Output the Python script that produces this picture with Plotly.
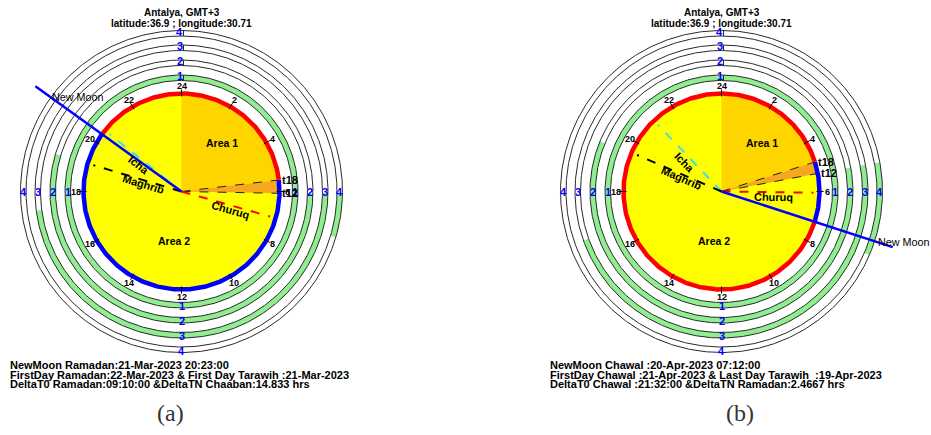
import numpy as np
import plotly.graph_objects as go

# ---------------- data ----------------
city_line = "Antalya, GMT+3"
coord_line = "latitude:36.9 ; longitude:30.71"
hour_ticks = [2, 4, 6, 8, 10, 12, 14, 16, 18, 20, 22, 24]
ring_names = ["1", "2", "3", "4"]

# (a) Ramadan 1444
ram_newmoon = 20 + 23 / 60
ram_t18 = 5.55
ram_t12 = 6.07
ram_icha = 20.57
ram_maghrib = 19.11
ram_churuq = 7.05
ram_ring_start = [0.0, 6.05, 6.05, 6.05]
ram_ring_end = [24.0, 19.11, 17.5, 7.1]
ram_info = [
    "NewMoon Ramadan:21-Mar-2023 20:23:00",
    "FirstDay Ramadan:22-Mar-2023 & First Day Tarawih :21-Mar-2023",
    "DeltaT0 Ramadan:09:10:00 &DeltaTN Chaaban:14.833 hrs",
]

# (b) Chawal 1444
chw_newmoon = 7 + 12 / 60
chw_t18 = 4.83
chw_t12 = 5.29
chw_icha = 21.09
chw_maghrib = 19.56
chw_churuq = 6.05
chw_ring_start = [0.0, 5.3, 5.3, 5.3]
chw_ring_end = [24.0, 19.5, 16.7, 7.55]
chw_info = [
    "NewMoon Chawal :20-Apr-2023 07:12:00",
    "FirstDay Chawal :21-Apr-2023 & Last Day Tarawih  :19-Apr-2023",
    "DeltaT0 Chawal :21:32:00 &DeltaTN Ramadan:2.4667 hrs",
]

# ---------------- styling / geometry ----------------
R = 98.0                      # clock radius
RING_IN = [111.0, 126.0, 141.0, 155.5]
RING_W = 5.5
FONT = "Liberation Sans"
YELLOW, GOLD, ORANGE = "#FFFF00", "#FFD500", "#F7A81E"
GREEN = "#90EE90"
RED, BLUE, CYAN = "#FF0000", "#0000FF", "#33E6E0"

W, H = 931, 435
PANEL_SPLIT = 465
CY = 191.5                    # clock centre, pixels from top
CX = [181.5, 721.5]


def pxy(h, r):
    th = np.deg2rad(np.asarray(h, dtype=float) * 15.0)
    return r * np.sin(th), r * np.cos(th)


def arc_pts(h0, h1, r):
    n = max(3, int(abs(h1 - h0) * 24) + 3)
    return pxy(np.linspace(h0, h1, n), r)


def unwrap(h0, h1):
    return h1 + 24 if h1 <= h0 else h1


fig = go.Figure()
annotations = []


def add_panel(k, newmoon, t18, t12, icha, maghrib, churuq, r_start, r_end,
              info, lbl):
    xa, ya = ("x", "y") if k == 0 else ("x2", "y2")

    def poly(xs, ys, fill, line_color=None, width=0):
        fig.add_trace(go.Scatter(x=xs, y=ys, xaxis=xa, yaxis=ya, mode="lines",
                                 fill="toself", fillcolor=fill,
                                 line=dict(color=line_color or fill, width=width),
                                 hoverinfo="skip", showlegend=False))

    def line(xs, ys, color, width, dash="solid"):
        fig.add_trace(go.Scatter(x=xs, y=ys, xaxis=xa, yaxis=ya, mode="lines",
                                 line=dict(color=color, width=width, dash=dash),
                                 hoverinfo="skip", showlegend=False))

    def text(x, y, s, size=10, color="black", bold=False, angle=0,
             xanchor="center", yanchor="middle", xshift=0, family=FONT):
        annotations.append(dict(x=x, y=y, xref=xa, yref=ya, text=f"<b>{s}</b>" if bold else s,
                                showarrow=False, textangle=angle, xanchor=xanchor,
                                yanchor=yanchor, xshift=xshift,
                                font=dict(family=family, size=size, color=color)))

    # yellow disc, Area 1 sector and the t18-t12 wedge
    x, y = arc_pts(0, 24, R)
    poly(x, y, YELLOW)
    x, y = arc_pts(0, t18, R)
    poly(np.r_[0, x, 0], np.r_[0, y, 0], GOLD)
    x, y = arc_pts(t18, t12, R)
    poly(np.r_[0, x, 0], np.r_[0, y, 0], ORANGE)
    for t in (t18, t12):
        ex, ey = pxy(t, R)
        line([0, ex], [0, ey], "#222222", 1, "dash")

    # day rings
    for i, rin in enumerate(RING_IN):
        rout = rin + RING_W
        h0, h1 = r_start[i], unwrap(r_start[i], r_end[i])
        xo, yo = arc_pts(h0, h1, rout)
        xi, yi = arc_pts(h1, h0, rin)
        poly(np.r_[xo, xi, xo[0]], np.r_[yo, yi, yo[0]], GREEN)
        for rr in (rin, rout):
            x, y = arc_pts(0, 24, rr)
            line(x, y, "#2a2a2a", 1)
        tx, ty = pxy([0, 0], [rin, rout])
        line(tx + 2, ty, "#2a2a2a", 1)
        rm = rin + RING_W / 2
        for hh, dy in ((0, 1.5), (6, 0), (12, -1), (18, 0)):
            lx, ly = pxy(hh, rm)
            text(lx, ly + dy, ring_names[i], size=11, color=BLUE, bold=True,
                 xshift=-2 if hh == 0 else 0)

    # clock border: red from new moon to t18, blue from t18 to new moon
    x, y = arc_pts(newmoon, unwrap(newmoon, t18), R)
    line(x, y, RED, 4.5)
    x, y = arc_pts(t18, unwrap(t18, newmoon), R)
    line(x, y, BLUE, 4.5)

    # hour ticks and labels
    for h in hour_ticks:
        tx, ty = pxy([h, h], [95, 102])
        line(tx, ty, "black", 1)
        lx, ly = pxy(h, 105.5)
        text(lx, ly, str(h), size=9, bold=True)

    # prayer-time rays
    for h, col, name, r_lbl, off in ((icha, CYAN, "Icha", lbl[0][0], lbl[0][1]),
                                     (maghrib, "black", "Maghrib", lbl[1][0], lbl[1][1]),
                                     (churuq, RED, "Churuq", lbl[2][0], lbl[2][1])):
        ex, ey = pxy(h, 92)
        line([0, ex], [0, ey], col, 2, "dash")
        th = np.deg2rad(h * 15)
        px, py = np.cos(th), -np.sin(th)
        if py > 0:
            px, py = -px, -py
        cx, cy = pxy(h, r_lbl)
        ang = h * 15 - 270 if h * 15 > 180 else h * 15 - 90
        text(cx + off * px, cy + off * py, name, size=11, bold=True, angle=ang)

    # t18 / t12 labels
    for t, s in ((t18, "t18"), (t12, "t12")):
        lx, ly = pxy(t, 99)
        text(lx, ly, s, size=11, bold=True, xanchor="left")

    # new moon ray
    ex, ey = pxy(newmoon, 180)
    line([0, ex], [0, ey], BLUE, 2.5)
    lx, ly = pxy(newmoon, 162.5)
    text(lx, ly, "New Moon", size=10.8, xanchor="left")

    text(40, 49, "Area 1", size=10.5, bold=True)
    text(-8, -49.5, "Area 2", size=10.5, bold=True)

    # header and info block
    text(0, CY - 12, city_line, size=10, bold=True)
    text(0, CY - 23, coord_line, size=10, bold=True)
    for j, s in enumerate(info):
        text(-173.5, CY - 365 - 9.7 * j, s, size=11, bold=True, xanchor="left")


add_panel(0, ram_newmoon, ram_t18, ram_t12, ram_icha, ram_maghrib, ram_churuq,
          ram_ring_start, ram_ring_end, ram_info,
          lbl=((50, 6.5), (39, 3.5), (52, 4.5)))
add_panel(1, chw_newmoon, chw_t18, chw_t12, chw_icha, chw_maghrib, chw_churuq,
          chw_ring_start, chw_ring_end, chw_info,
          lbl=((46, 6.7), (42, 3.7), (52, 4.6)))

for cap, xp in (("(a)", 170), ("(b)", 740)):
    annotations.append(dict(x=xp / W, y=(H - 413) / H, xref="paper", yref="paper",
                            text=cap, showarrow=False, xanchor="center", yanchor="middle",
                            font=dict(family="Liberation Serif", size=24, color="#333333")))

ax_off = dict(visible=False, showgrid=False, zeroline=False, fixedrange=True)
fig.update_layout(
    width=W, height=H, margin=dict(l=0, r=0, t=0, b=0),
    paper_bgcolor="white", plot_bgcolor="white",
    xaxis=dict(domain=[0, PANEL_SPLIT / W], range=[-CX[0], PANEL_SPLIT - CX[0]], **ax_off),
    yaxis=dict(domain=[0, 1], range=[CY - H, CY], **ax_off),
    xaxis2=dict(domain=[PANEL_SPLIT / W, 1], range=[PANEL_SPLIT - CX[1], W - CX[1]], **ax_off),
    yaxis2=dict(domain=[0, 1], range=[CY - H, CY], anchor="x2", **ax_off),
    annotations=annotations,
    showlegend=False,
)

fig.write_html("out.html")
